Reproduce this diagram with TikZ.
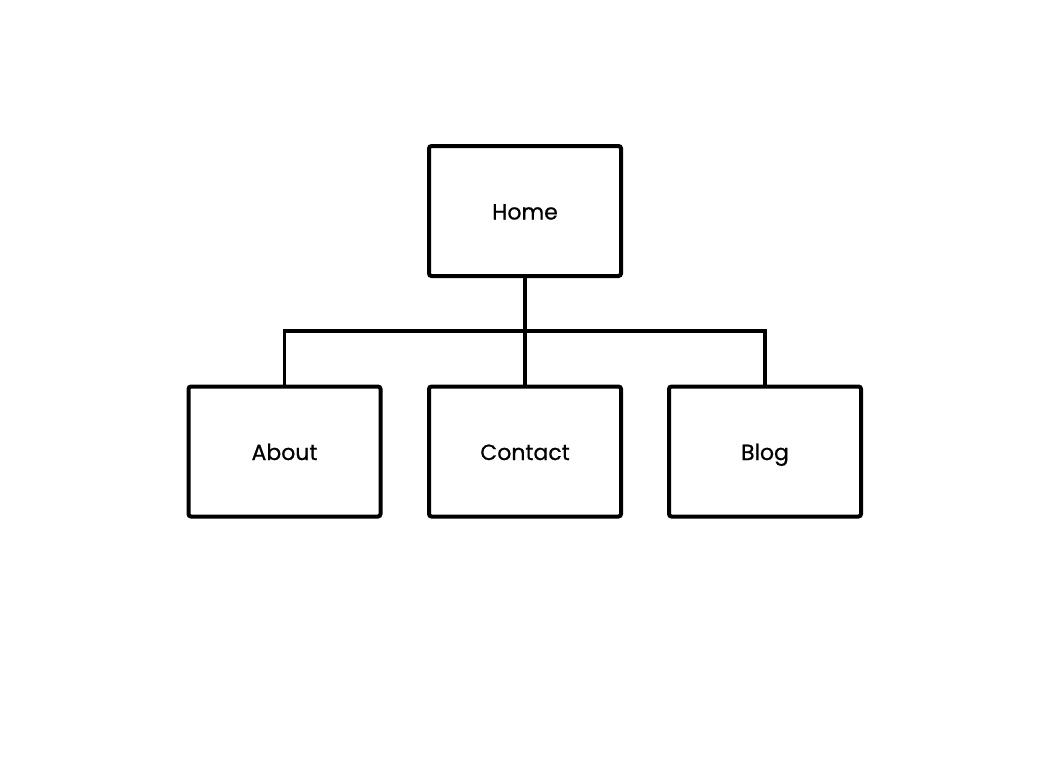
\documentclass[tikz,border=0pt]{standalone}
\usepackage{fontspec}
\setmainfont{Poppins}
\newfontfamily\labelfont{Poppins}[FakeBold=0.7]
\usetikzlibrary{positioning}
\tikzset{
  page/.style={x=1pt,y=-1pt},
  pagebox/.style={draw,line width=4pt,rounded corners=2.5pt,
    minimum width=192pt,minimum height=130pt,inner sep=0pt,
    text height=22pt,text depth=5pt,
    font=\labelfont\fontsize{22}{26}\selectfont},
  link/.style={line width=3.2pt}
}
\begin{document}
\begin{tikzpicture}[page]
    \useasboundingbox (0,0) rectangle (1062,768);
    \node[pagebox] (home) at (525,211) {Home};
    \node[pagebox] (about) at (284.5,451.5) {About};
    \node[pagebox] (contact) at (525,451.5) {Contact};
    \node[pagebox] (blog) at (765,451.5) {Blog};
    \coordinate (split) at (525,331);
    \draw[link] (home.south) -- (contact.north);
    \draw[link] (about.north) |- (split) -| (blog.north);
\end{tikzpicture}
\end{document}
